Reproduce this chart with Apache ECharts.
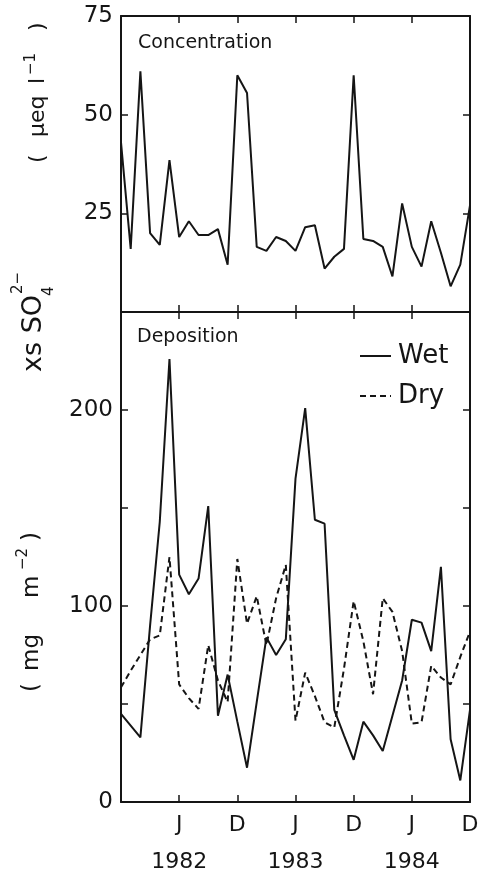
<!DOCTYPE html>
<html>
<head>
<meta charset="utf-8">
<title>xs SO4 concentration and deposition</title>
<script src="https://cdn.jsdelivr.net/npm/echarts@6/dist/echarts.min.js"></script>
<style>
  html, body { margin: 0; padding: 0; background: #ffffff; }
  #chart { width: 483px; height: 876px; }
</style>
</head>
<body>
<div id="chart"></div>
<script>
// Monthly samples, December 1981 to December 1984
const months = [
  'Dec 1981',
  'Jan 1982', 'Feb 1982', 'Mar 1982', 'Apr 1982', 'May 1982', 'Jun 1982',
  'Jul 1982', 'Aug 1982', 'Sep 1982', 'Oct 1982', 'Nov 1982', 'Dec 1982',
  'Jan 1983', 'Feb 1983', 'Mar 1983', 'Apr 1983', 'May 1983', 'Jun 1983',
  'Jul 1983', 'Aug 1983', 'Sep 1983', 'Oct 1983', 'Nov 1983', 'Dec 1983',
  'Jan 1984', 'Feb 1984', 'Mar 1984', 'Apr 1984', 'May 1984', 'Jun 1984',
  'Jul 1984', 'Aug 1984', 'Sep 1984', 'Oct 1984', 'Nov 1984', 'Dec 1984'
];

// xs SO4(2-) concentration in precipitation (µeq l-1)
const concentration = [
  43, 16, 61, 20, 17, 38.5, 19, 23, 19.5, 19.5, 21, 12, 60,
  55.5, 16.5, 15.5, 19, 18, 15.5, 21.5, 22, 11, 14, 16, 60,
  18.5, 18, 16.5, 9, 27.5, 16.5, 11.5, 23, 15, 6.5, 12, 27
];

// Wet deposition (mg m-2)
const wet = [
  45, 39, 33, 90, 143, 226, 116, 106, 114, 151, 44, 65, 41,
  17.5, 51, 84, 75, 83, 165, 201, 144, 142, 47, 34, 21.5,
  41, 34, 26, 44, 62, 93, 91.5, 77, 120, 32, 11, 47
];

// Dry deposition (mg m-2)
const dry = [
  58.5, 67, 75, 83, 85, 125, 60, 53, 47.5, 80, 62, 51, 124,
  91, 105, 80, 104, 121, 41.5, 66, 54, 40.7, 38, 68, 102.5,
  82, 55, 104, 97, 77, 40, 40.7, 69.5, 63.5, 60, 74, 87
];

const concTicks = [25, 50, 75];
const depoTicks = [0, 100, 200];

const FONT = '"DejaVu Sans", "Liberation Sans", sans-serif';
const INK = '#151515';

const chart = echarts.init(document.getElementById('chart'), null, { renderer: 'canvas' });

const lineAxis = { show: true, onZero: false, lineStyle: { color: INK, width: 2 } };
const innerTick = { show: true, inside: true, length: 7, lineStyle: { color: INK, width: 1.5 } };
const halfYear = (index) => index > 0 && index % 6 === 0;

function monthLabel(value) {
  const parts = value.split(' ');
  if (parts[0] === 'Jun') return '{m|J}\n{y|' + parts[1] + '}';
  if (parts[0] === 'Dec') return '{m|D}';
  return '';
}

function xAxisFor(gridIndex, position, labelled) {
  return {
    type: 'category',
    gridIndex: gridIndex,
    position: position,
    data: months,
    boundaryGap: false,
    axisLine: lineAxis,
    axisTick: Object.assign({}, innerTick, { interval: (i) => halfYear(i) }),
    splitLine: { show: false },
    axisLabel: labelled ? {
      show: true,
      interval: (i) => halfYear(i),
      hideOverlap: false,
      margin: 8,
      formatter: monthLabel,
      color: INK,
      fontFamily: FONT,
      rich: {
        m: { fontSize: 22, lineHeight: 30, fontFamily: FONT, color: INK },
        y: { fontSize: 22, lineHeight: 44, fontFamily: FONT, color: INK }
      }
    } : { show: false }
  };
}

function yAxisFor(gridIndex, position, max, interval, shown) {
  return {
    type: 'value',
    gridIndex: gridIndex,
    position: position,
    min: 0,
    max: max,
    interval: interval,
    axisLine: lineAxis,
    axisTick: innerTick,
    splitLine: { show: false },
    axisLabel: shown ? {
      show: true,
      margin: 8,
      color: INK,
      fontSize: 23,
      fontFamily: FONT,
      formatter: (v) => (shown.indexOf(v) >= 0 ? String(v) : '')
    } : { show: false }
  };
}

// Rotated axis title pieces (text reads bottom to top)
function rotatedGroup(x, y, pieces) {
  return {
    type: 'group',
    x: x,
    y: y,
    rotation: Math.PI / 2,
    children: pieces.map((p) => ({
      type: 'text',
      x: p.at,
      y: p.dy || 0,
      style: {
        text: p.text,
        fontSize: p.size,
        fontFamily: FONT,
        fill: INK,
        align: 'left',
        verticalAlign: 'middle'
      }
    }))
  };
}

const option = {
  backgroundColor: '#ffffff',
  animation: false,
  grid: [
    { left: 121, right: 13, top: 16, height: 296 },
    { left: 121, right: 13, top: 312, height: 490 }
  ],
  xAxis: [
    xAxisFor(0, 'bottom', false),
    xAxisFor(0, 'top', false),
    xAxisFor(1, 'bottom', true),
    xAxisFor(1, 'top', false)
  ],
  yAxis: [
    yAxisFor(0, 'left', 75, 25, concTicks),
    yAxisFor(0, 'right', 75, 25, null),
    yAxisFor(1, 'left', 250, 50, depoTicks),
    yAxisFor(1, 'right', 250, 50, null)
  ],
  legend: {
    data: ['Wet', 'Dry'],
    orient: 'vertical',
    left: 354,
    top: 338,
    itemWidth: 31,
    itemHeight: 20,
    itemGap: 14,
    // line-only keys: the point marker is left transparent
    itemStyle: { color: 'rgba(0,0,0,0)', borderColor: 'rgba(0,0,0,0)', borderWidth: 0 },
    lineStyle: { width: 2 },
    textStyle: { fontSize: 26, fontFamily: FONT, color: INK, padding: [0, 0, 0, 2] }
  },
  graphic: [
    {
      type: 'text', x: 138, y: 43,
      style: { text: 'Concentration', fontSize: 19, fontFamily: FONT, fill: INK, align: 'left', verticalAlign: 'middle' }
    },
    {
      type: 'text', x: 137, y: 337,
      style: { text: 'Deposition', fontSize: 19, fontFamily: FONT, fill: INK, align: 'left', verticalAlign: 'middle' }
    },
    rotatedGroup(38, 163, [
      { text: '(', at: 0, size: 22 },
      { text: 'μeq', at: 26, size: 22 },
      { text: 'l', at: 79, size: 22 },
      { text: '−1', at: 88, size: 15, dy: -7 },
      { text: ')', at: 132, size: 22 }
    ]),
    rotatedGroup(34, 372, [
      { text: 'xs SO', at: 0, size: 27 },
      { text: '4', at: 76, size: 15, dy: 15 },
      { text: '2−', at: 78, size: 15, dy: -16 }
    ]),
    rotatedGroup(32, 692, [
      { text: '(', at: 0, size: 23 },
      { text: 'mg', at: 21, size: 23 },
      { text: 'm', at: 94, size: 23 },
      { text: '−2', at: 122, size: 15, dy: -9 },
      { text: ')', at: 151, size: 23 }
    ])
  ],
  series: [
    {
      name: 'Concentration',
      type: 'line',
      xAxisIndex: 0,
      yAxisIndex: 0,
      data: concentration,
      symbol: 'none',
      lineStyle: { color: INK, width: 2 }
    },
    {
      name: 'Wet',
      type: 'line',
      xAxisIndex: 2,
      yAxisIndex: 2,
      data: wet,
      symbol: 'none',
      itemStyle: { color: INK },
      lineStyle: { color: INK, width: 2 }
    },
    {
      name: 'Dry',
      type: 'line',
      xAxisIndex: 2,
      yAxisIndex: 2,
      data: dry,
      symbol: 'none',
      itemStyle: { color: INK },
      lineStyle: { color: INK, width: 2, type: [6, 4] }
    }
  ]
};

chart.setOption(option);
</script>
</body>
</html>
